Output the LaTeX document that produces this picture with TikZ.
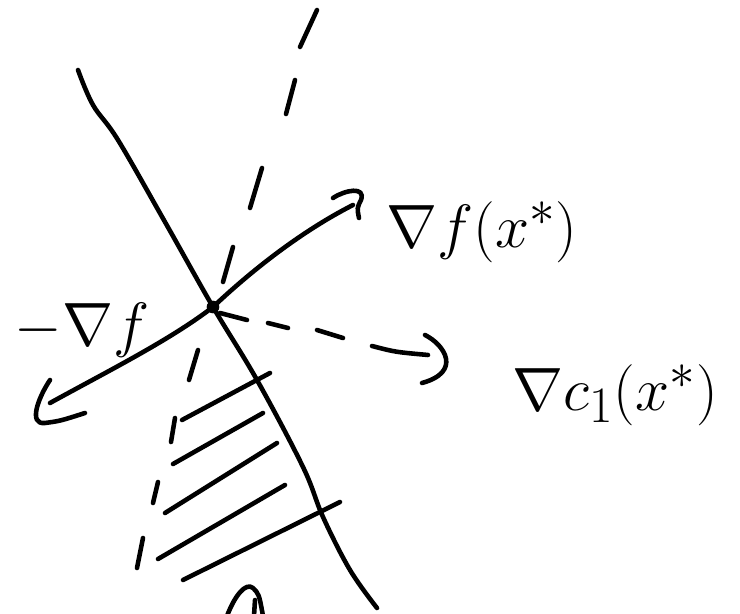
\documentclass[tikz,border=0pt]{standalone}
\begin{document}
\begin{tikzpicture}[x=0.02cm, y=-0.02cm,
    pen/.style={line width=2.6pt, line cap=round, line join=round},
    lbl/.style={font=\Huge, scale=1.4, inner sep=0pt}]
    \useasboundingbox (0,0) rectangle (740,614);
    % Point x^* where the boundary and the dashed line cross
    \coordinate (xs) at (213,307);

    % Constraint boundary
    \draw[pen] plot[smooth, tension=0.6] coordinates {(78,70) (93,105) (118,140) (165,222) (213,307)
        (257,380) (303,467) (323,517) (350,570) (377,608)};
    % Dashed line, one stroke per dash
    \foreach \a/\b in {{(317,10)}/{(300,47)}, {(295,80)}/{(286,114)}, {(262,168)}/{(250,208)},
        {(233,247)}/{(223,282)}, {(198,350)}/{(189,380)}, {(175,418)}/{(171,442)},
        {(158,482)}/{(153,503)}, {(143,538)}/{(137,568)}}
        \draw[pen] \a -- \b;

    % Hatched region
    \foreach \a/\b in {{(182,420)}/{(270,373)}, {(173,464)}/{(263,413)}, {(165,513)}/{(277,443)},
        {(158,559)}/{(285,485)}, {(183,580)}/{(340,502)}}
        \draw[pen] \a -- \b;

    % Gradient of f
    \coordinate (fend) at (353,205);
    \draw[pen] (xs) .. controls (250,272) and (300,232) .. (fend);
    \draw[pen] (333,198) .. controls (345,190) and (366,186) .. (361,200) .. controls (357,208) .. (359,218);
    \node[lbl] (gradf) at (482,232) {$\nabla f(x^*)$};

    % Minus gradient of f
    \coordinate (mfend) at (50,403);
    \draw[pen] (xs) .. controls (170,340) and (110,370) .. (mfend);
    \draw[pen] (50,380) .. controls (38,398) and (28,425) .. (45,423) .. controls (60,421) .. (85,413);
    \node[lbl] (mgradf) at (82,330) {$-\nabla f$};

    % Gradient of c_1 (dashed)
    \coordinate (cend) at (428,355);
    \draw[pen] (xs) ++(7,6) -- (247,320);
    \draw[pen] (268,323) -- (288,328);
    \draw[pen] (317,330) -- (343,338);
    \draw[pen] (372,346) .. controls (395,352) .. (cend);
    \draw[pen] (425,335) .. controls (445,345) and (462,372) .. (422,383);
    \node[lbl] (gradc) at (615,395) {$\nabla c_1(x^*)$};

    % Cut-off mark at the bottom
    \draw[pen] (227,616) .. controls (235,595) and (246,582) .. (253,588) .. controls (259,594) .. (263,616);
    \draw[pen] (255,600) -- (254,616);

    \fill (xs) circle (3.6pt);
\end{tikzpicture}
\end{document}
